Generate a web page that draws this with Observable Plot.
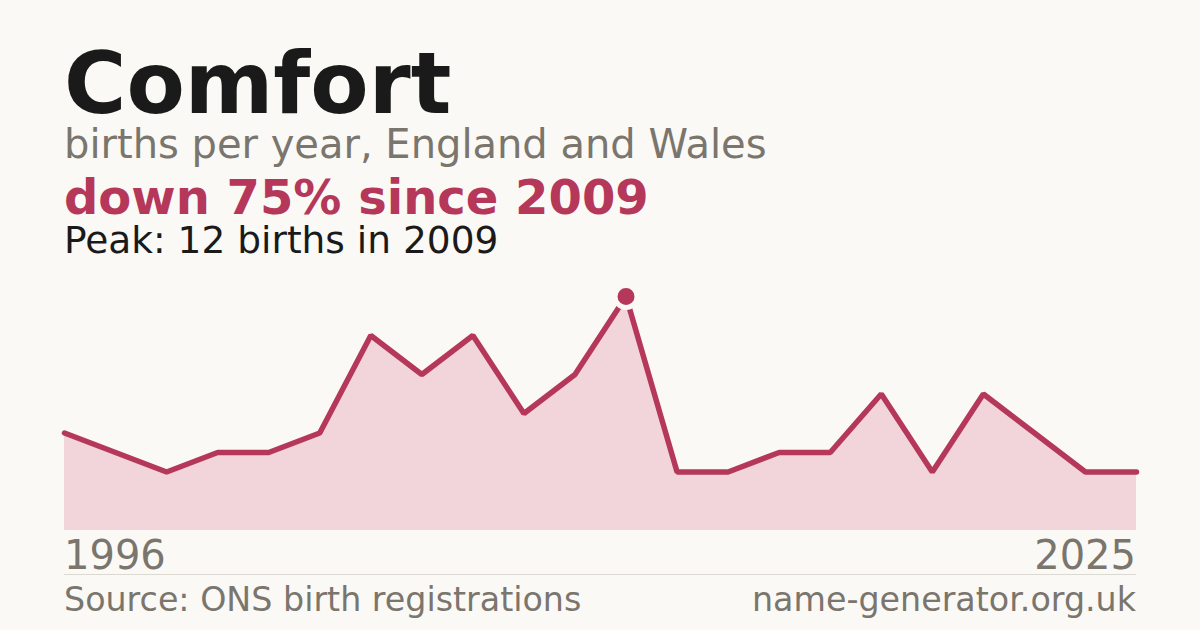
<!DOCTYPE html>
<html>
<head>
<meta charset="utf-8">
<script src="https://cdn.jsdelivr.net/npm/d3@7"></script>
<script src="https://cdn.jsdelivr.net/npm/@observablehq/plot@0.6"></script>
<style>
  html, body { margin: 0; padding: 0; background: #faf9f5; }
  body { width: 1200px; height: 630px; position: relative; overflow: hidden; font-family: "DejaVu Sans", sans-serif; }
  .t { position: absolute; left: 64px; white-space: nowrap; line-height: 0.85; }
  #title { top: 47.5px; font-size: 85px; font-weight: bold; color: #1a1a1a; }
  #sub { top: 127px; font-size: 40px; color: #7a756d; }
  #headline { top: 177px; font-size: 48px; font-weight: bold; color: #b5385a; }
  #peak { top: 225px; font-size: 37.5px; color: #1a1a1a; }
  #chart { position: absolute; left: 0; top: 270px; }
  #y0 { top: 538px; font-size: 40px; color: #7a756d; }
  #y1 { top: 538px; left: auto; right: 64px; font-size: 40px; color: #7a756d; }
  #rule { position: absolute; left: 64px; width: 1072px; top: 574px; height: 1px; background: #dcd9d2; }
  #src { top: 585.5px; font-size: 33.3px; color: #7a756d; }
  #site { top: 585.5px; left: auto; right: 64px; font-size: 33.3px; color: #7a756d; }
</style>
</head>
<body>
<div class="t" id="title">Comfort</div>
<div class="t" id="sub">births per year, England and Wales</div>
<div class="t" id="headline">down 75% since 2009</div>
<div class="t" id="peak">Peak: 12 births in 2009</div>
<div id="chart"></div>
<div class="t" id="y0"></div>
<div class="t" id="y1"></div>
<div id="rule"></div>
<div class="t" id="src">Source: ONS birth registrations</div>
<div class="t" id="site">name-generator.org.uk</div>
<script>
const years  = [1996, 1997, 1999, 2000, 2001, 2002, 2003, 2004, 2005, 2006, 2008, 2009, 2010, 2012, 2013, 2015, 2016, 2018, 2019, 2021, 2024, 2025];
const births = [5, 4, 3, 4, 4, 5, 10, 8, 10, 6, 8, 12, 3, 3, 4, 4, 7, 3, 7, 5, 3, 3];
const peakYear = 2009;

const data = years.map((y, i) => ({i, year: y, births: births[i]}));
const peak = data.filter(d => d.year === peakYear);

document.getElementById("y0").textContent = years[0];
document.getElementById("y1").textContent = years[years.length - 1];

const accent = "#b5385a";
const chart = Plot.plot({
  width: 1200,
  height: 270,
  marginLeft: 64,
  marginRight: 64,
  marginTop: 26,
  marginBottom: 10,
  style: {background: "transparent", overflow: "visible"},
  x: {axis: null, domain: [0, years.length - 1]},
  y: {axis: null, domain: [0, 12]},
  marks: [
    Plot.areaY(data, {x: "i", y: "births", fill: "#f2d5db"}),
    Plot.lineY(data, {x: "i", y: "births", stroke: accent, strokeWidth: 5.5, strokeLinejoin: "miter"}),
    Plot.dot(peak, {x: "i", y: "births", r: 11, fill: accent, stroke: "#faf9f5", strokeWidth: 5})
  ]
});
document.getElementById("chart").appendChild(chart);
</script>
</body>
</html>
